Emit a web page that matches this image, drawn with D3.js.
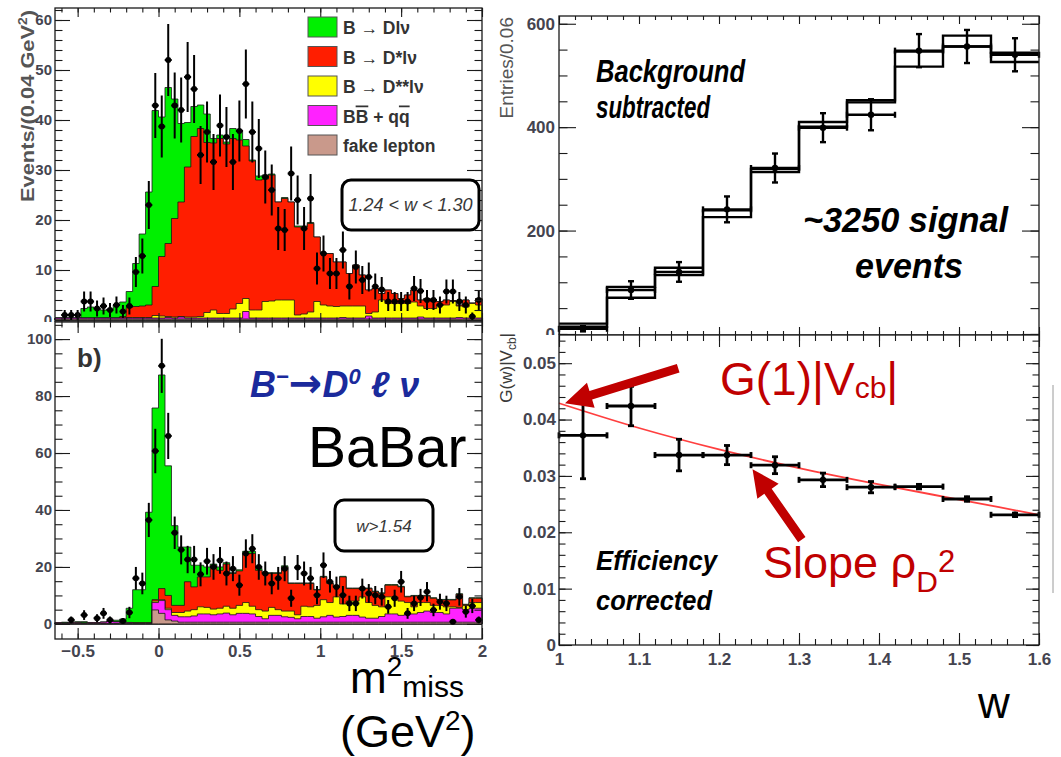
<!DOCTYPE html>
<html>
<head>
<meta charset="utf-8">
<script src="https://cdn.jsdelivr.net/npm/d3@7"></script>
<style>
  body { margin: 0; background: #fff; }
  text { font-family: "Liberation Sans", Arial, Helvetica, sans-serif; }
</style>
</head>
<body>
<svg id="fig" width="1061" height="757"></svg>
<script>
var FONT = '"Liberation Sans", Arial, Helvetica, sans-serif'

// ---------------- data: m2miss histograms (bins of 0.04 GeV^2 from -0.64) ----------------
var BIN_LO = -0.64, BIN_W = 0.04

// panel a) 1.24 < w < 1.30, stacked components per bin
var dA = [0,0,0,0,1.9,2.2,1.9,1.6,1.8,2.6,2.9,3.2,8.6,14.4,22.6,35.2,27.9,31.2,23.9,15.7,8.9,6.0,4.7,5.7,0.9,0.7,0.4,2.0,2.0,1.3,0.2,0.8,0.8,0.2,0,0.2,0,0.2,0.2,0.2,0,0,0,0,0,0,0,0,0,0,0,0,0,0,0,0,0,0,0,0,0,0,0,0,0,0]
var dsA = [0,0,0,0,0,0,0,0,0,0,0.3,2.0,2.2,2.3,2.5,5.8,11.9,14.6,19.7,22.9,30.0,36.1,37.6,34.0,33.4,35.0,33.9,34.1,32.7,30.5,29.8,26.0,24.5,25.2,19.6,20.3,19.6,17.6,17.4,17.7,12.9,10.3,10.5,8.9,8.8,6.5,8.2,6.2,4.7,4.7,1.3,2.7,2.0,1.0,1.7,2.4,1.2,2.0,1.4,0.7,1.0,0.2,0.2,1.4,0.1,1.3]
var dssA = [0,0,0,0,0,0,0,0,0,0,0,0.1,0.1,0.1,0.1,0.5,0.4,0.2,0.2,0.1,0.2,0.2,0.3,1.1,1.6,0.9,0.9,1.8,2.9,2.6,1.6,1.6,3.3,3.4,3.6,3.6,3.6,0.6,0.8,1.2,3.3,2.6,2.4,2.3,2.3,2.4,2.4,2.4,0.5,1.2,3.6,2.9,2.9,2.9,2.9,3.2,2.2,1.9,1.9,2.6,2.6,3.3,2.3,2.2,2.9,2.6]
var bbA = [0.2,0.2,0.2,0.2,0.2,0.2,0.2,0.2,0.2,0.2,0.2,0.2,0.2,0.2,0.2,0.2,0.2,0.3,0.2,0.4,0.2,0.2,0.2,0.2,0.2,0.2,0.2,0.2,0.2,1.5,0.2,0.2,0.2,0.2,0.2,0.2,0.2,0.2,0.2,0.2,0.2,0.2,0.2,0.2,0.3,0.2,0.2,0.2,0.6,0.2,0.2,0.2,0.2,0.2,0.2,0.2,0.4,0.2,0.2,0.2,0.2,0.2,0.3,0.2,0.2,0.2]
var fakeA = [0.2,0.2,0.2,0.2,0.2,0.2,0.2,0.2,0.2,0.2,0.2,0.2,0.2,0.2,0.2,0.2,0.2,0.2,0.2,0.2,0.2,0.2,0.2,0.2,0.2,0.2,0.2,0.2,0.2,0.2,0.2,0.2,0.2,0.2,0.2,0.2,0.2,0.2,0.2,0.2,0.2,0.2,0.2,0.2,0.2,0.2,0.2,0.2,0.2,0.2,0.2,0.2,0.2,0.2,0.2,0.2,0.2,0.2,0.2,0.2,0.2,0.2,0.2,0.2,0.2,0.2]
var dataA = [null,1,1,1,3.7,3.7,2.3,2.8,2.0,3.0,1.7,2.8,9.6,12.8,23,42.9,38.7,52,42.9,42,48.6,46.2,33,37.6,31.6,38.9,36.6,31.6,37.8,47.2,37.6,34.3,28.6,26,18.3,18,29.3,24,18.3,24.3,10.3,13.3,9.3,9.3,14,6.7,10.6,8,8.6,6.7,6.1,3.7,3.7,3.7,3.7,6.3,5.8,4,4,3,5.7,5.7,3.7,3,0.7,4]
var errA = [0,1,1,1,2,2,1.6,1.7,1.4,1.7,1.3,1.7,3,3.5,4.8,6.5,6.2,7.2,6.6,6.5,7,6.8,5.8,6.1,5.6,6.2,6,5.6,6.1,6.9,6.1,5.9,5.3,5.1,4.3,4.2,5.4,4.9,4.3,4.9,3.2,3.6,3.1,3.1,3.7,2.6,3.3,2.8,2.9,2.6,2.5,1.9,1.9,1.9,1.9,2.5,2.4,2,2,1.7,2.4,2.4,1.9,1.7,0.8,2]

// panel b) w > 1.54
var dB = [0,0.3,0,0.4,0.5,0.1,0.1,0,0.1,0.6,1.3,5.0,11.6,11.6,38.8,67.3,75.0,45.5,28.0,20.5,12.2,7.6,4.1,3.5,0.4,1.2,0.5,0.3,0.4,0.8,0.8,0.7,0.3,0.3,0.3,0.4,0.2,0.2,0.2,0.2,0.2,0.2,0.2,0.2,0.2,0.2,0.2,0.2,0.2,0.2,0.2,0.2,0.2,0.2,0.2,0.2,0.2,0.2,0.2,0.2,0.2,0.2,0.2,0.2,0.2,0.2]
var dsB = [0,0,0,0,0,0,0,0,0,0,0,0,0,0,0,0.5,3.9,4.5,2.5,2.5,10.3,8.0,10.5,10.7,15.4,13.3,14.8,12.2,12.1,17.2,18.5,13.8,13.2,11.9,12.7,15.5,9.7,11.0,8.0,8.2,5.4,8.0,6.7,3.5,9.5,4.4,4.4,2.9,4.9,4.8,4.7,4.1,4.1,5.0,2.0,3.8,2.3,2.3,2.5,1.9,2.4,2.4,4.6,0.2,1.5,1.5]
var dssB = [0,0,0,0,0,0,0,0,0,0,0,0.1,0.1,0.1,0.1,0.5,0.3,0.5,1.0,1.5,2.0,2.2,2.5,2.3,2.0,2.0,2.4,2.3,2.8,3.8,2.7,2.4,2.7,2.8,2.0,2.0,2.2,1.4,3.6,3.4,4.5,6.0,4.5,7.1,4.4,5.0,5.0,7.1,5.5,4.5,3.4,6.0,6.0,5.0,4.0,2.5,3.5,3.0,2.5,2.5,2.5,0.5,0.3,1.5,2.0,2.0]
var bbB = [0.3,0.2,0.3,0.3,0.2,0.3,0.3,0.5,0.8,0.6,0.3,0.3,0.2,0.2,0.2,2.6,4.5,3.6,2.0,1.9,1.9,2.2,2.9,2.9,2.6,2.9,3.2,2.6,3.1,3.1,2.9,2.0,1.2,2.4,2.4,1.9,1.7,1.2,2.0,2.0,1.4,1.9,2.4,1.8,2.0,2.4,2.4,1.8,1.4,1.4,2.0,2.9,2.9,2.4,2.9,2.9,3.4,3.9,3.4,3.4,2.9,4.9,4.9,4.4,4.9,4.9]
var fakeB = [0.1,0.1,0.1,0.1,0.1,0.1,0.1,0.1,0.1,0.1,0.1,0.1,0.1,0.1,0.1,4.9,3.7,1.4,1.0,0.6,0.6,0.6,0.6,0.6,0.6,0.6,0.6,0.6,0.6,0.6,0.6,0.6,0.6,0.6,0.6,0.6,0.6,0.6,0.6,0.6,0.6,0.6,0.6,0.6,0.6,0.6,0.6,0.6,0.6,0.6,0.6,0.6,0.6,0.6,0.6,0.6,0.6,0.6,0.6,0.6,0.6,0.6,0.6,0.6,0.6,0.6]
var dataB = [null,null,1.4,null,3.1,null,2,3.7,1.4,null,1,4,16,14.2,36.5,60.7,90.6,66,32,26,22.6,22.6,17.4,22,20,22.3,17.7,19.4,13.6,24.7,26.4,20,17.7,14.2,16,19.4,9,19.8,17.7,16,10.1,20.6,14.8,13,10.1,7.2,7.2,12.4,10.7,10.1,9.5,6,9,14.8,3.7,7.2,9.3,11.3,4.9,7.8,7.2,0.8,9.5,4.3,6.3,1.4]
var errB = [0,0,1.2,0,1.7,0,1.4,1.9,1.2,0,1,2,4,3.8,6,7.8,9.5,8.1,5.7,5.1,4.8,4.8,4.2,4.7,4.5,4.7,4.2,4.4,3.7,5,5.1,4.5,4.2,3.8,4,4.4,3,4.4,4.2,4,3.2,4.5,3.8,3.6,3.2,2.7,2.7,3.5,3.3,3.2,3.1,2.4,3,3.8,1.9,2.7,3,3.4,2.2,2.8,2.7,0.9,3.1,2.1,2.5,1.2]

var stackKeys = ['fake', 'bb', 'dss', 'ds', 'd']   // bottom -> top
var stackColor = { d: '#00f000', ds: '#ff1e00', dss: '#ffff00', bb: '#ff22ff', fake: '#c9998b' }
var legendKeys = ['d', 'ds', 'dss', 'bb', 'fake']

// ---------------- data: w distribution (bins of 0.06 from 1.0) ----------------
var W_LO = 1.0, W_BIN = 0.06
var histFitA = [20, 91, 128, 239, 319, 410, 452, 546, 577, 544]
var histFitB = [14, 70, 114, 226, 313, 401, 448, 517, 556, 526]
var wData = [10, 85, 120, 241, 321, 399, 424, 548, 556, 540]
var wErr = [5, 17, 19, 25, 28, 28, 30, 32, 32, 32]

// G(w)|Vcb| efficiency corrected
var gW = [1.03, 1.09, 1.15, 1.21, 1.27, 1.33, 1.39, 1.45, 1.51, 1.57]
var gVal = [0.0372, 0.0424, 0.0337, 0.0337, 0.0319, 0.0293, 0.0280, 0.0281, 0.0259, 0.0231]
var gErr = [0.0077, 0.0035, 0.0028, 0.0017, 0.0015, 0.0012, 0.0010, 0.0004, 0.0004, 0.0003]
var fitW = [1.0, 1.1, 1.2, 1.3, 1.4, 1.5, 1.6]
var fitG = [0.0429, 0.0385, 0.0347, 0.0314, 0.0285, 0.0258, 0.0231]

var svg = d3.select('#fig')
svg.append('rect').attr('width', 1061).attr('height', 757).attr('fill', '#fff')

function fmtRange(a, b, s) {
    return d3.range(a, b + s / 2, s).map(function (v) { return +v.toFixed(4) })
}

function tickAxis(parent, axis, tx, ty, fs) {
    var g = parent.append('g').attr('transform', 'translate(' + tx + ',' + ty + ')').call(axis)
    g.select('.domain').remove()
    g.selectAll('line').attr('stroke', '#1a1a1a').attr('stroke-width', 1.1)
    g.selectAll('text').attr('fill', '#44444f').style('font-size', (fs || 15) + 'px')
        .style('font-family', FONT).style('font-weight', 'bold')
    return g
}

// frame + inward ticks on all four sides
function frame(g, x, y, o) {
    var x0 = x.range()[0], x1 = x.range()[1]
    var yb = y.range()[0], yt = y.range()[1]
    g.append('rect').attr('x', x0).attr('y', yt).attr('width', x1 - x0).attr('height', yb - yt)
        .attr('fill', 'none').attr('stroke', '#1a1a1a').attr('stroke-width', 1.3)
    var none = function () { return '' }
    tickAxis(g, d3.axisLeft(y).tickValues(o.yMajor).tickSize(-o.yLen).tickPadding(o.yPad).tickFormat(o.yFmt), x0, 0, o.yFs)
    tickAxis(g, d3.axisLeft(y).tickValues(o.yMinor).tickSize(-o.yLen / 2).tickFormat(none), x0, 0)
    tickAxis(g, d3.axisRight(y).tickValues(o.yMajor).tickSize(-o.yLen).tickFormat(none), x1, 0)
    tickAxis(g, d3.axisRight(y).tickValues(o.yMinor).tickSize(-o.yLen / 2).tickFormat(none), x1, 0)
    tickAxis(g, d3.axisTop(x).tickValues(o.xMajor).tickSize(-o.xLen).tickFormat(none), 0, yt)
    tickAxis(g, d3.axisTop(x).tickValues(o.xMinor).tickSize(-o.xLen / 2).tickFormat(none), 0, yt)
    tickAxis(g, d3.axisBottom(x).tickValues(o.xMajor).tickSize(-o.xLen).tickPadding(o.xPad || 3).tickFormat(o.xFmt || none), 0, yb, o.xFs)
    tickAxis(g, d3.axisBottom(x).tickValues(o.xMinor).tickSize(-o.xLen / 2).tickFormat(none), 0, yb)
}

// stacked step histogram + data points
function drawStack(g, x, y, comp, data, errs) {
    var rows = comp.d.map(function (_, i) {
        return { x: BIN_LO + BIN_W * i, d: comp.d[i], ds: comp.ds[i], dss: comp.dss[i], bb: comp.bb[i], fake: comp.fake[i] }
    })
    rows.push(Object.assign({}, rows[rows.length - 1], { x: BIN_LO + BIN_W * rows.length }))
    var series = d3.stack().keys(stackKeys)(rows)
    var area = d3.area().x(function (d) { return x(d.data.x) }).y0(y(0))
        .y1(function (d) { return y(d[1]) }).curve(d3.curveStepAfter)
    series.slice().reverse().forEach(function (s) {
        g.append('path').datum(s).attr('d', area)
            .attr('fill', stackColor[s.key]).attr('stroke', '#161616').attr('stroke-width', 0.8)
    })
    var pts = data.map(function (v, i) { return { c: BIN_LO + BIN_W * (i + 0.5), v: v, e: errs[i] } })
        .filter(function (d) { return d.v != null })
    var pg = g.append('g')
    pg.selectAll('line.ev').data(pts).join('line').attr('class', 'ev')
        .attr('x1', function (d) { return x(d.c) }).attr('x2', function (d) { return x(d.c) })
        .attr('y1', function (d) { return y(Math.max(0, d.v - d.e)) }).attr('y2', function (d) { return y(d.v + d.e) })
        .attr('stroke', '#000').attr('stroke-width', 2)
    pg.selectAll('line.eh').data(pts).join('line').attr('class', 'eh')
        .attr('x1', function (d) { return x(d.c) - 3.5 }).attr('x2', function (d) { return x(d.c) + 3.5 })
        .attr('y1', function (d) { return y(d.v) }).attr('y2', function (d) { return y(d.v) })
        .attr('stroke', '#000').attr('stroke-width', 2)
    pg.selectAll('circle').data(pts).join('circle')
        .attr('cx', function (d) { return x(d.c) }).attr('cy', function (d) { return y(d.v) })
        .attr('r', 3).attr('fill', '#000')
}

function roundBox(g, x, y, w, h, label, fs) {
    g.append('rect').attr('x', x).attr('y', y).attr('width', w).attr('height', h).attr('rx', 9)
        .attr('fill', '#fff').attr('stroke', '#000').attr('stroke-width', 3)
    g.append('text').attr('x', x + w / 2).attr('y', y + h / 2).attr('dy', '0.36em').attr('text-anchor', 'middle')
        .attr('font-style', 'italic').attr('font-size', fs).attr('fill', '#383838').text(label)
}

// ======================= left column =======================
var xL = d3.scaleLinear().domain([BIN_LO, 2.0]).range([55, 482])
var xMajL = [-0.5, 0, 0.5, 1, 1.5, 2], xMinL = fmtRange(-0.6, 2.0, 0.1)

// -- top: 1.24 < w < 1.30
var yA = d3.scaleLinear().domain([-0.4, 62.4]).range([322, 8])
var gA = svg.append('g')
drawStack(gA, xL, yA, { d: dA, ds: dsA, dss: dssA, bb: bbA, fake: fakeA }, dataA, errA)
frame(gA, xL, yA, {
    yMajor: fmtRange(0, 60, 10), yMinor: fmtRange(0, 62, 2), yLen: 15, yPad: 3, yFs: 15, yFmt: d3.format('d'),
    xMajor: xMajL, xMinor: xMinL, xLen: 9
})
gA.append('text').attr('transform', 'translate(34,10) rotate(-90)').attr('text-anchor', 'end')
    .attr('font-size', 19).attr('font-weight', 'bold').attr('fill', '#555')
    .attr('textLength', 192).attr('lengthAdjust', 'spacingAndGlyphs')
    .call(function (t) {
        t.append('tspan').text('Events/(0.04 GeV')
        t.append('tspan').attr('font-size', 12).attr('dy', -7).text('2')
        t.append('tspan').attr('dy', 7).text(')')
    })

// legend
var leg = gA.append('g')
var legLabels = { d: 'B \u2192 Dl\u03bd', ds: 'B \u2192 D*l\u03bd', dss: 'B \u2192 D**l\u03bd', fake: 'fake lepton' }
legendKeys.forEach(function (k, i) {
    var yy = 17 + i * 29.5
    leg.append('rect').attr('x', 308).attr('y', yy).attr('width', 29).attr('height', 20)
        .attr('fill', stackColor[k]).attr('stroke', '#555').attr('stroke-width', 1)
    var t = leg.append('text').attr('x', 343).attr('y', yy + 17).attr('font-size', 17.5)
        .attr('font-weight', 'bold').attr('fill', '#333')
    if (k === 'bb') {
        t.append('tspan').text('B')
        t.append('tspan').style('text-decoration', 'overline').text('B')
        t.append('tspan').text(' + q')
        t.append('tspan').style('text-decoration', 'overline').text('q')
    } else {
        t.text(legLabels[k])
    }
})
roundBox(gA, 342, 180, 137, 50, '1.24 < w < 1.30', 18)

// -- bottom: w > 1.54
svg.append('rect').attr('x', 0).attr('y', 322).attr('width', 490).attr('height', 435).attr('fill', '#fff')
var yB = d3.scaleLinear().domain([-5.3, 106]).range([639, 322])
var gB = svg.append('g')
drawStack(gB, xL, yB, { d: dB, ds: dsB, dss: dssB, bb: bbB, fake: fakeB }, dataB, errB)
frame(gB, xL, yB, {
    yMajor: fmtRange(0, 100, 20), yMinor: fmtRange(0, 105, 5), yLen: 15, yPad: 3, yFs: 15, yFmt: d3.format('d'),
    xMajor: xMajL, xMinor: xMinL, xLen: 11, xPad: 6, xFs: 17, xFmt: d3.format('~g')
})
gB.append('text').attr('x', 77).attr('y', 367).attr('font-size', 26).attr('font-weight', 'bold').attr('fill', '#333').text('b)')
gB.append('text').attr('x', 250).attr('y', 397).attr('font-size', 36).attr('font-weight', 'bold')
    .attr('font-style', 'italic').attr('fill', '#1b2a9c')
    .call(function (t) {
        t.append('tspan').text('B')
        t.append('tspan').attr('font-size', 22).attr('dy', -13).text('\u2212')
        t.append('tspan').attr('dy', 13).attr('font-family', '"DejaVu Sans", sans-serif').attr('font-size', 40).text('\u2192')
        t.append('tspan').text('D')
        t.append('tspan').attr('font-size', 22).attr('dy', -13).text('0')
        t.append('tspan').attr('dy', 13).text(' \u2113 \u03bd')
    })
gB.append('text').attr('x', 308).attr('y', 467).attr('font-size', 57).attr('fill', '#000').text('BaBar')
roundBox(gB, 335, 500, 98, 51, 'w>1.54', 17)

// x-axis title
svg.append('text').attr('x', 350).attr('y', 693).attr('font-size', 44).attr('fill', '#000')
    .call(function (t) {
        t.append('tspan').text('m')
        t.append('tspan').attr('font-size', 28).attr('dy', -17).text('2')
        t.append('tspan').attr('font-size', 30).attr('dy', 21).text('miss')
    })
svg.append('text').attr('x', 340).attr('y', 747).attr('font-size', 45).attr('fill', '#000')
    .call(function (t) {
        t.append('tspan').text('(GeV')
        t.append('tspan').attr('font-size', 28).attr('dy', -17).text('2')
        t.append('tspan').attr('dy', 17).text(')')
    })

// ======================= right column =======================
var xR = d3.scaleLinear().domain([1.0, 1.6]).range([559, 1039])
var xMajR = fmtRange(1.0, 1.6, 0.1), xMinR = fmtRange(1.0, 1.6, 0.02)

// -- top: background subtracted w spectrum
var yC = d3.scaleLinear().domain([-2, 615]).range([335, 16])
var gC = svg.append('g')
var stepLine = d3.line().x(function (d) { return xR(d[0]) }).y(function (d) { return yC(d[1]) }).curve(d3.curveStepAfter)
;[histFitA, histFitB].forEach(function (h) {
    var p = h.map(function (v, i) { return [W_LO + W_BIN * i, v] })
    p.push([W_LO + W_BIN * h.length, h[h.length - 1]])
    gC.append('path').attr('d', stepLine(p)).attr('fill', 'none').attr('stroke', '#000').attr('stroke-width', 2.4)
})
var wPts = wData.map(function (v, i) { return { c: W_LO + W_BIN * (i + 0.5), v: v, e: wErr[i] } })
function errPoints(g, x, y, pts, halfW, lw) {
    var k = g.append('g').attr('stroke', '#000').attr('stroke-width', lw)
    pts.forEach(function (d) {
        var cx = x(d.c), cy = y(d.v), yt = y(d.v + d.e), yb = y(d.v - d.e)
        k.append('line').attr('x1', x(d.c - halfW)).attr('x2', x(d.c + halfW)).attr('y1', cy).attr('y2', cy)
        k.append('line').attr('x1', cx).attr('x2', cx).attr('y1', yt).attr('y2', yb)
        k.append('line').attr('x1', cx - 3).attr('x2', cx + 3).attr('y1', yt).attr('y2', yt)
        k.append('line').attr('x1', cx - 3).attr('x2', cx + 3).attr('y1', yb).attr('y2', yb)
        k.append('line').attr('x1', x(d.c - halfW)).attr('x2', x(d.c - halfW)).attr('y1', cy - 3).attr('y2', cy + 3)
        k.append('line').attr('x1', x(d.c + halfW)).attr('x2', x(d.c + halfW)).attr('y1', cy - 3).attr('y2', cy + 3)
        g.append('circle').attr('cx', cx).attr('cy', cy).attr('r', 3.2).attr('fill', '#000')
    })
}
errPoints(gC, xR, yC, wPts, W_BIN / 2, 2.4)
frame(gC, xR, yC, {
    yMajor: [0, 200, 400, 600], yMinor: fmtRange(0, 600, 50), yLen: 17, yPad: 4, yFs: 17, yFmt: d3.format('d'),
    xMajor: xMajR, xMinor: xMinR, xLen: 8
})
gC.append('text').attr('transform', 'translate(513,17) rotate(-90)').attr('text-anchor', 'end')
    .attr('font-size', 19).attr('fill', '#555').text('Entries/0.06')
gC.append('text').attr('x', 596).attr('y', 82).attr('font-size', 31).attr('font-weight', 'bold').attr('font-style', 'italic')
    .attr('textLength', 149).attr('lengthAdjust', 'spacingAndGlyphs').text('Background')
gC.append('text').attr('x', 596).attr('y', 118).attr('font-size', 31).attr('font-weight', 'bold').attr('font-style', 'italic')
    .attr('textLength', 114).attr('lengthAdjust', 'spacingAndGlyphs').text('subtracted')
gC.append('text').attr('x', 803).attr('y', 232).attr('font-size', 35).attr('font-weight', 'bold').attr('font-style', 'italic')
    .attr('textLength', 205).attr('lengthAdjust', 'spacingAndGlyphs').text('~3250 signal')
gC.append('text').attr('x', 855).attr('y', 278).attr('font-size', 35).attr('font-weight', 'bold').attr('font-style', 'italic')
    .attr('textLength', 108).attr('lengthAdjust', 'spacingAndGlyphs').text('events')

// -- bottom: G(w)|Vcb| with fit
svg.append('rect').attr('x', 490).attr('y', 335).attr('width', 571).attr('height', 422).attr('fill', '#fff')
var yD = d3.scaleLinear().domain([0, 0.055]).range([645, 335])
var gD = svg.append('g')
gD.append('path').datum(fitW.map(function (w, i) { return [w, fitG[i]] }))
    .attr('d', d3.line().x(function (d) { return xR(d[0]) }).y(function (d) { return yD(d[1]) }).curve(d3.curveMonotoneX))
    .attr('fill', 'none').attr('stroke', '#ff2a2a').attr('stroke-width', 1.8).attr('stroke-opacity', 0.9)
errPoints(gD, xR, yD, gW.map(function (w, i) { return { c: w, v: gVal[i], e: gErr[i] } }), 0.03, 2.8)
frame(gD, xR, yD, {
    yMajor: fmtRange(0, 0.05, 0.01), yMinor: fmtRange(0, 0.054, 0.002), yLen: 13, yPad: 3, yFs: 17,
    yFmt: function (v) { return v === 0 ? '0' : d3.format('.2f')(v) },
    xMajor: xMajR, xMinor: xMinR, xLen: 12, xPad: 8, xFs: 17,
    xFmt: function (v) { return v === 1 ? '1' : d3.format('.1f')(v) }
})
gD.append('text').attr('transform', 'translate(512,333) rotate(-90)').attr('text-anchor', 'end')
    .attr('font-size', 17).attr('fill', '#3a3a3a')
    .call(function (t) {
        t.append('tspan').text('G(w)|V')
        t.append('tspan').attr('font-size', 12).attr('dy', 4).text('cb')
        t.append('tspan').attr('dy', -4).text('|')
    })
gD.append('text').attr('x', 596).attr('y', 570).attr('font-size', 28).attr('font-weight', 'bold').attr('font-style', 'italic')
    .attr('textLength', 121).attr('lengthAdjust', 'spacingAndGlyphs').text('Efficiency')
gD.append('text').attr('x', 596).attr('y', 610).attr('font-size', 28).attr('font-weight', 'bold').attr('font-style', 'italic')
    .attr('textLength', 116).attr('lengthAdjust', 'spacingAndGlyphs').text('corrected')

// annotations
var RED = '#c00000'
function arrow(g, p0, p1) {
    var dx = p1[0] - p0[0], dy = p1[1] - p0[1], L = Math.hypot(dx, dy)
    var ux = dx / L, uy = dy / L, nx = -uy, ny = ux
    var hl = 27, hw = 13, sw = 4.5
    var bx = p1[0] - ux * hl, by = p1[1] - uy * hl
    var pts = [[p0[0] + nx * sw, p0[1] + ny * sw], [bx + nx * sw, by + ny * sw], [bx + nx * hw, by + ny * hw], p1,
        [bx - nx * hw, by - ny * hw], [bx - nx * sw, by - ny * sw], [p0[0] - nx * sw, p0[1] - ny * sw]]
    g.append('polygon').attr('points', pts.map(function (p) { return p.join(',') }).join(' ')).attr('fill', RED)
}
arrow(gD, [xR(1.149), yD(0.0491)], [xR(1.0075), yD(0.0429)])
arrow(gD, [xR(1.3035), yD(0.0187)], [xR(1.2419), yD(0.0312)])
gD.append('text').attr('x', 720).attr('y', 395).attr('font-size', 46).attr('fill', RED)
    .call(function (t) {
        t.append('tspan').text('G(1)|V')
        t.append('tspan').attr('font-size', 30).attr('dy', 3).text('cb')
        t.append('tspan').attr('dy', -3).text('|')
    })
gD.append('text').attr('x', 763).attr('y', 578).attr('font-size', 45).attr('fill', RED)
    .call(function (t) {
        t.append('tspan').text('Slope \u03c1')
        t.append('tspan').attr('font-size', 30).attr('dy', 14).text('D')
        t.append('tspan').attr('font-size', 31).attr('dy', -20).text('2')
    })
svg.append('line').attr('x1', 1053).attr('x2', 1053).attr('y1', 385).attr('y2', 593)
    .attr('stroke', '#9a9a9a').attr('stroke-width', 1)
svg.append('text').attr('x', 978).attr('y', 718).attr('font-size', 44).attr('fill', '#000').text('w')
</script>
</body>
</html>
